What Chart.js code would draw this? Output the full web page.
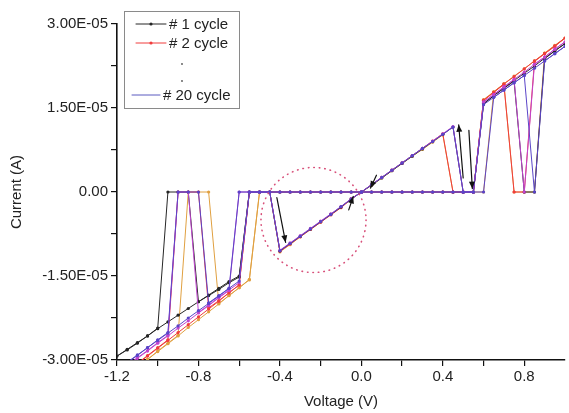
<!DOCTYPE html>
<html>
<head>
<meta charset="utf-8">
<script src="https://cdn.jsdelivr.net/npm/chart.js@4.4.1/dist/chart.umd.min.js"></script>
<style>
  html, body { margin: 0; padding: 0; background: #fff; }
  canvas { display: block; }
</style>
</head>
<body>
<canvas id="ivChart" width="569" height="413"></canvas>
<script>
// Voltage sweep (V): 0 -> 1.0 -> 0 -> -1.2 -> 0
const sweepV = [
  0, 0.05, 0.1, 0.15, 0.2, 0.25, 0.3, 0.35, 0.4, 0.45, 0.5, 0.55, 0.6, 0.65, 0.7, 0.75, 0.8, 0.85, 0.9, 0.95, 1.0,
  0.95, 0.9, 0.85, 0.8, 0.75, 0.7, 0.65, 0.6, 0.55, 0.5, 0.45, 0.4, 0.35, 0.3, 0.25, 0.2, 0.15, 0.1, 0.05, 0,
  -0.05, -0.1, -0.15, -0.2, -0.25, -0.3, -0.35, -0.4, -0.45, -0.5, -0.55, -0.6, -0.65, -0.7, -0.75, -0.8, -0.85, -0.9, -0.95, -1.0, -1.05, -1.1, -1.15, -1.2,
  -1.15, -1.1, -1.05, -1.0, -0.95, -0.9, -0.85, -0.8, -0.75, -0.7, -0.65, -0.6, -0.55, -0.5, -0.45, -0.4, -0.35, -0.3, -0.25, -0.2, -0.15, -0.1, -0.05, 0
];

// Currents, in units of 1E-05 A, one entry per sweep point
const cycle1 = [
  0, 0.12, 0.25, 0.38, 0.51, 0.64, 0.77, 0.9, 1.03, 1.16, 0, 0, 1.57, 1.72, 1.86, 1.99, 2.12, 2.25, 2.39, 2.52, 2.65,
  2.52, 2.38, 0, 0, 1.98, 1.85, 1.72, 1.58, 0, 0, 0, 0, 0, 0, 0, 0, 0, 0, 0, 0,
  0, 0, 0, 0, 0, 0, 0, 0, 0, 0, 0, -1.52, -1.62, -1.74, -1.85, -1.96, -2.08, -2.2, -2.32, -2.44, -2.57, -2.69, -2.81, -2.93,
  -2.82, -2.7, -2.57, -2.43, 0, 0, 0, -1.96, -1.84, -1.72, -1.6, -1.5, 0, 0, 0, -1.05, -0.92, -0.79, -0.66, -0.53, -0.4, -0.27, -0.12, 0
];
const cycle2 = [
  0, 0.13, 0.26, 0.39, 0.52, 0.65, 0.78, 0.91, 1.04, 0, 0, 0, 1.63, 1.78, 1.93, 2.06, 2.2, 2.34, 2.47, 2.61, 2.75,
  2.6, 2.47, 2.33, 0, 0, 1.92, 1.78, 1.64, 0, 0, 0, 0, 0, 0, 0, 0, 0, 0, 0, 0,
  0, 0, 0, 0, 0, 0, 0, 0, 0, 0, 0, -1.66, -1.8, -1.95, -2.09, -2.23, -2.37, -2.51, -2.65, -2.79, -2.93, -3.07, -3.2, -3.34,
  -3.19, -3.06, -2.92, -2.78, -2.64, 0, 0, 0, -2.07, -1.94, -1.8, -1.66, 0, 0, 0, -1.06, -0.93, -0.8, -0.67, -0.54, -0.41, -0.28, -0.13, 0
];
const cycle3 = [
  0, 0.12, 0.25, 0.38, 0.51, 0.64, 0.76, 0.89, 1.02, 0, 0, 0, 0, 1.79, 1.93, 2.07, 2.2, 2.34, 2.48, 2.61, 2.75,
  2.62, 2.48, 0, 0, 0, 1.93, 1.79, 1.65, 0, 0, 0, 0, 0, 0, 0, 0, 0, 0, 0, 0,
  0, 0, 0, 0, 0, 0, 0, 0, 0, 0, -1.57, -1.71, -1.85, -2.0, -2.14, -2.28, -2.42, -2.57, -2.71, -2.85, -2.99, -3.13, -3.28, -3.42,
  -3.27, -3.13, -2.99, -2.84, -2.7, -2.56, 0, 0, 0, -1.99, -1.85, -1.71, -1.56, 0, 0, -1.07, -0.94, -0.8, -0.67, -0.54, -0.4, -0.27, -0.13, 0
];
const cycle4 = [
  0, 0.13, 0.26, 0.39, 0.52, 0.65, 0.78, 0.91, 1.04, 1.17, 0, 0, 1.6, 1.74, 1.88, 2.01, 2.14, 2.28, 2.41, 2.55, 2.68,
  2.55, 2.41, 2.28, 0, 2.01, 1.87, 1.74, 1.61, 0, 0, 0, 0, 0, 0, 0, 0, 0, 0, 0, 0,
  0, 0, 0, 0, 0, 0, 0, 0, 0, 0, 0, 0, -1.76, -1.89, -2.03, -2.16, -2.3, -2.43, -2.57, -2.7, -2.84, -2.97, -3.11, -3.24,
  -3.1, -2.96, -2.83, -2.69, -2.56, 0, 0, -2.15, -2.02, -1.88, -1.75, -1.62, 0, 0, 0, -1.04, -0.91, -0.78, -0.65, -0.52, -0.39, -0.26, -0.12, 0
];
const cycle20 = [
  0, 0.13, 0.26, 0.39, 0.52, 0.65, 0.78, 0.9, 1.03, 1.16, 0, 0, 0, 1.69, 1.82, 1.95, 2.08, 2.21, 2.34, 2.47, 2.6,
  2.47, 2.34, 0, 2.08, 1.95, 1.82, 1.69, 1.56, 0, 0, 0, 0, 0, 0, 0, 0, 0, 0, 0, 0,
  0, 0, 0, 0, 0, 0, 0, 0, 0, 0, 0, -1.59, -1.72, -1.86, -1.99, -2.12, -2.25, -2.39, -2.52, -2.65, -2.78, -2.92, -3.05, -3.18,
  -3.04, -2.91, -2.78, -2.64, -2.51, 0, 0, 0, -1.98, -1.85, -1.72, 0, 0, 0, 0, -1.05, -0.92, -0.79, -0.66, -0.53, -0.4, -0.26, -0.13, 0
];

const xMajor = [-1.2, -0.8, -0.4, 0, 0.4, 0.8];
const xMinor = [-1.0, -0.6, -0.2, 0.2, 0.6];
const yMajor = [-3, -1.5, 0, 1.5, 3];
const yMinor = [-2.25, -0.75, 0.75, 2.25];

const legendLabels = ['# 1 cycle', '# 2 cycle', '# 20 cycle'];

// Chart.js paints dataset 0 last, so the violet #20 cycle ends up on top
const series = [
  { values: cycle20, color: '#5a44c8' },
  { values: cycle4, color: '#c043cf' },
  { values: cycle1, color: '#262626' },
  { values: cycle2, color: '#f03c3c' },
  { values: cycle3, color: '#e0a040' }
];

// annotations (data coordinates)
const circle = { v: -0.235, i: -0.5, rV: 0.258 };
const arrows = [
  [-0.415, -0.1, -0.372, -0.9],
  [-0.062, -0.32, -0.04, -0.08],
  [0.074, 0.3, 0.045, 0.07],
  [0.5, 0.25, 0.478, 1.2],
  [0.528, 1.1, 0.545, 0.06]
];

const datasets = series.map(s => ({
  data: sweepV.map((v, k) => ({ x: v, y: s.values[k] })),
  showLine: true,
  borderColor: s.color,
  borderWidth: 1,
  pointRadius: 1.6,
  pointBorderWidth: 0,
  pointBackgroundColor: s.color,
  tension: 0
}));

const FONT = 'Liberation Sans, Arial, sans-serif';

function arrowHead(ctx, x1, y1, x2, y2) {
  const a = Math.atan2(y2 - y1, x2 - x1);
  const len = 7, w = 3;
  ctx.beginPath();
  ctx.moveTo(x2, y2);
  ctx.lineTo(x2 - len * Math.cos(a) + w * Math.sin(a), y2 - len * Math.sin(a) - w * Math.cos(a));
  ctx.lineTo(x2 - len * Math.cos(a) - w * Math.sin(a), y2 - len * Math.sin(a) + w * Math.cos(a));
  ctx.closePath();
  ctx.fill();
}

const extras = {
  id: 'extras',
  afterDatasetsDraw(chart) {
    const ctx = chart.ctx;
    const xs = chart.scales.x, ys = chart.scales.y;
    ctx.save();

    // dotted circle
    const cx = xs.getPixelForValue(circle.v);
    const cy = ys.getPixelForValue(circle.i);
    const r = xs.getPixelForValue(circle.v + circle.rV) - cx;
    ctx.strokeStyle = '#d8507a';
    ctx.lineWidth = 1.6;
    ctx.lineCap = 'round';
    ctx.setLineDash([0.5, 5]);
    ctx.beginPath();
    ctx.arc(cx, cy, r, 0, Math.PI * 2);
    ctx.stroke();
    ctx.setLineDash([]);

    // arrows
    ctx.strokeStyle = '#111';
    ctx.fillStyle = '#111';
    ctx.lineWidth = 1.2;
    arrows.forEach(a => {
      const x1 = xs.getPixelForValue(a[0]), y1 = ys.getPixelForValue(a[1]);
      const x2 = xs.getPixelForValue(a[2]), y2 = ys.getPixelForValue(a[3]);
      ctx.beginPath();
      ctx.moveTo(x1, y1);
      ctx.lineTo(x2, y2);
      ctx.stroke();
      arrowHead(ctx, x1, y1, x2, y2);
    });

    // legend box
    ctx.fillStyle = '#fff';
    ctx.fillRect(124, 11, 115, 97);
    ctx.strokeStyle = '#8a8a8a';
    ctx.lineWidth = 1;
    ctx.strokeRect(124.5, 11.5, 115, 97);

    const rows = [
      { y: 24, color: '#262626', text: legendLabels[0] },
      { y: 43, color: '#f03c3c', text: legendLabels[1] },
      { y: 95, color: '#5a5ac0', text: legendLabels[2] }
    ];
    ctx.font = '15px ' + FONT;
    ctx.textBaseline = 'middle';
    rows.forEach((row, k) => {
      const x0 = k === 2 ? 132 : 136;
      const x1 = k === 2 ? 160 : 166;
      ctx.strokeStyle = row.color;
      ctx.beginPath();
      ctx.moveTo(x0, row.y);
      ctx.lineTo(x1, row.y);
      ctx.stroke();
      if (k < 2) {
        ctx.fillStyle = row.color;
        ctx.beginPath();
        ctx.arc((x0 + x1) / 2, row.y, 1.6, 0, Math.PI * 2);
        ctx.fill();
      }
      ctx.fillStyle = '#222';
      ctx.fillText(row.text, x1 + 3, row.y + 1);
    });
    // vertical ellipsis between entries
    ctx.fillStyle = '#555';
    [64, 81].forEach(y => {
      ctx.beginPath();
      ctx.arc(182, y, 0.9, 0, Math.PI * 2);
      ctx.fill();
    });

    ctx.restore();
  }
};

new Chart(document.getElementById('ivChart'), {
  type: 'scatter',
  data: { datasets: datasets },
  options: {
    responsive: false,
    animation: false,
    devicePixelRatio: 1,
    layout: { padding: { left: 0, right: 0, top: 24, bottom: 0 } },
    plugins: {
      legend: { display: false },
      tooltip: { enabled: false }
    },
    scales: {
      x: {
        type: 'linear',
        min: -1.2,
        max: 1.0,
        afterBuildTicks: s => {
          s.ticks = xMajor.concat(xMinor).sort((a, b) => a - b).map(v => ({ value: v }));
        },
        afterFit: s => { s.height = 53; },
        ticks: {
          autoSkip: false,
          maxRotation: 0,
          padding: 2,
          color: '#222',
          font: { family: FONT, size: 15 },
          callback: v => xMajor.includes(v) ? v.toFixed(1) : ''
        },
        grid: { drawOnChartArea: false, drawTicks: true, tickLength: 6, color: '#111', lineWidth: 1.2 },
        border: { display: true, color: '#111', width: 1.6 },
        title: {
          display: true,
          text: 'Voltage (V)',
          color: '#222',
          font: { family: FONT, size: 15 },
          padding: { top: 0, bottom: 2 }
        }
      },
      y: {
        type: 'linear',
        min: -3,
        max: 3,
        afterBuildTicks: s => {
          s.ticks = yMajor.concat(yMinor).sort((a, b) => a - b).map(v => ({ value: v }));
        },
        afterFit: s => { s.width = 117; },
        ticks: {
          autoSkip: false,
          padding: 3,
          color: '#222',
          font: { family: FONT, size: 15 },
          callback: v => yMajor.includes(v) ? (v === 0 ? '0.00' : v.toFixed(2) + 'E-05') : ''
        },
        grid: { drawOnChartArea: false, drawTicks: true, tickLength: 6, color: '#111', lineWidth: 1.2 },
        border: { display: true, color: '#111', width: 1.6 },
        title: {
          display: true,
          text: 'Current (A)',
          color: '#222',
          font: { family: FONT, size: 15 },
          padding: { top: 8, bottom: 0 }
        }
      }
    }
  },
  plugins: [extras]
});
</script>
</body>
</html>
